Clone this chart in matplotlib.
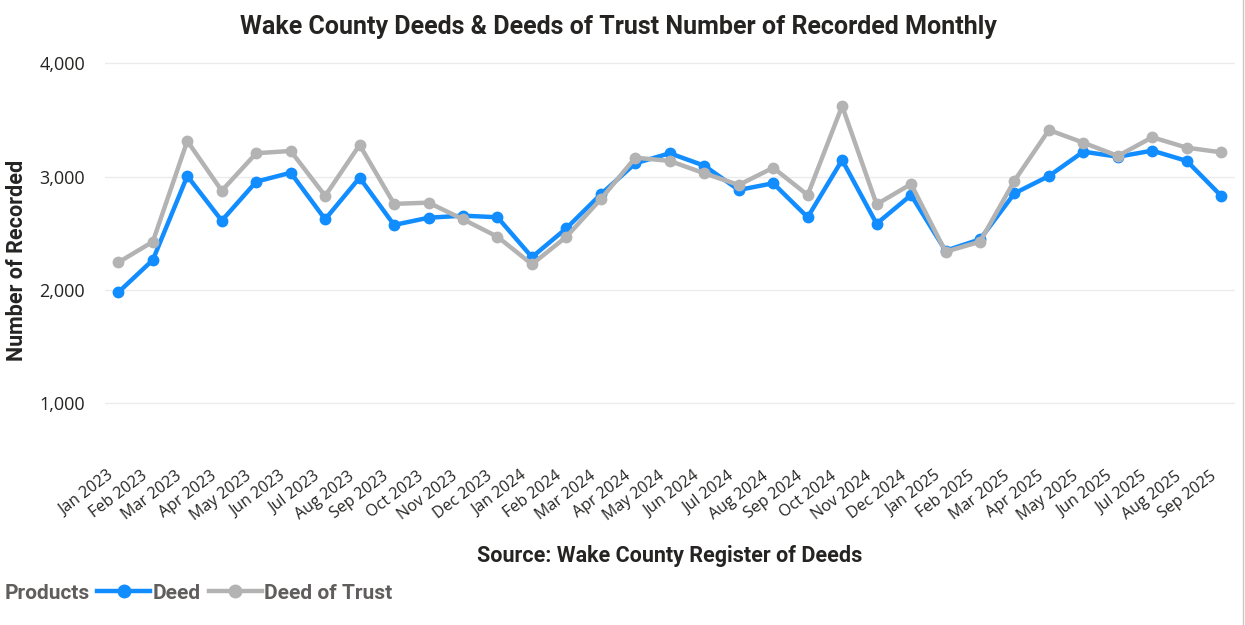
import matplotlib.pyplot as plt
import matplotlib.transforms as mtransforms
from matplotlib.lines import Line2D

months = ['Jan 2023', 'Feb 2023', 'Mar 2023', 'Apr 2023', 'May 2023', 'Jun 2023',
          'Jul 2023', 'Aug 2023', 'Sep 2023', 'Oct 2023', 'Nov 2023', 'Dec 2023',
          'Jan 2024', 'Feb 2024', 'Mar 2024', 'Apr 2024', 'May 2024', 'Jun 2024',
          'Jul 2024', 'Aug 2024', 'Sep 2024', 'Oct 2024', 'Nov 2024', 'Dec 2024',
          'Jan 2025', 'Feb 2025', 'Mar 2025', 'Apr 2025', 'May 2025', 'Jun 2025',
          'Jul 2025', 'Aug 2025', 'Sep 2025']

deed = [1980, 2265, 3006, 2612, 2956, 3035, 2624, 2991, 2574, 2638, 2656, 2642,
        2290, 2545, 2845, 3118, 3207, 3097, 2883, 2942, 2642, 3147, 2585, 2838,
        2347, 2447, 2853, 3006, 3221, 3176, 3230, 3139, 2830]

deed_of_trust = [2244, 2426, 3315, 2876, 3207, 3227, 2830, 3280, 2760, 2771, 2624, 2470,
                 2227, 2470, 2803, 3168, 3139, 3030, 2927, 3079, 2838, 3624, 2756, 2935,
                 2338, 2426, 2965, 3412, 3300, 3183, 3348, 3256, 3215]

yticks = [1000, 2000, 3000, 4000]

blue = '#118DFF'
grey = '#B3B3B3'
txt_grey = '#605E5C'
dark = '#252423'

plt.rcParams['font.family'] = ['Open Sans', 'DejaVu Sans']

fig = plt.figure(figsize=(12.45, 6.25), dpi=100)
ax = fig.add_axes([0.084, 0.272, 0.908, 0.648])

x = list(range(len(months)))
ax.plot(x, deed, color=blue, lw=3.2, marker='o', ms=7.5, zorder=3)
ax.plot(x, deed_of_trust, color=grey, lw=3.2, marker='o', ms=7.5, zorder=4)

ax.set_xlim(-0.4, len(months) - 0.6)
ax.set_ylim(544, 4118)
ax.set_yticks(yticks)
ax.set_yticklabels([f'{v:,}' for v in yticks], fontsize=13, color=dark)
ax.yaxis.grid(True, color='#EBEBEB', lw=1)
ax.set_axisbelow(True)
ax.tick_params(axis='y', length=0, pad=14)
ax.set_xticks(x)
ax.set_xticklabels(months, rotation=37, ha='right', va='center', rotation_mode='anchor',
                   fontsize=11.5, color=dark)
ax.tick_params(axis='x', length=0, pad=14)
shift = mtransforms.ScaledTranslation(-7 / 100, 0, fig.dpi_scale_trans)
for lab in ax.get_xticklabels():
    lab.set_transform(lab.get_transform() + shift)
for s in ax.spines.values():
    s.set_visible(False)

fig.text(0.497, 0.957, 'Wake County Deeds & Deeds of Trust Number of Recorded Monthly',
         ha='center', va='center', fontsize=18, fontweight='bold', family='Roboto',
         color=dark)
fig.text(0.014, 0.583, 'Number of Recorded', rotation=90, ha='center', va='center',
         fontsize=15.5, fontweight='bold', family='Roboto', color=dark)
fig.text(0.538, 0.110, 'Source: Wake County Register of Deeds', ha='center', va='center',
         fontsize=15.5, fontweight='bold', family='Roboto', color=dark)

fig.text(0.004, 0.051, 'Products', ha='left', va='center', fontsize=15,
         fontweight='bold', family='Roboto', color=txt_grey)
handles = [Line2D([], [], color=blue, lw=3.2, marker='o', ms=9),
           Line2D([], [], color=grey, lw=3.2, marker='o', ms=9)]
leg = fig.legend(handles, ['Deed', 'Deed of Trust'], loc='center left',
                 bbox_to_anchor=(0.078, 0.051), ncol=2, frameon=False, borderpad=0,
                 borderaxespad=0, handlelength=2.55, handletextpad=0.1, columnspacing=0.4,
                 prop={'family': 'Roboto', 'weight': 'bold', 'size': 15})
for t in leg.get_texts():
    t.set_color(txt_grey)

fig.add_artist(Line2D([0.9985, 0.9985], [0, 1], color='#C8C8C8', lw=1))

fig.savefig('out.png', dpi=100, facecolor='white')
